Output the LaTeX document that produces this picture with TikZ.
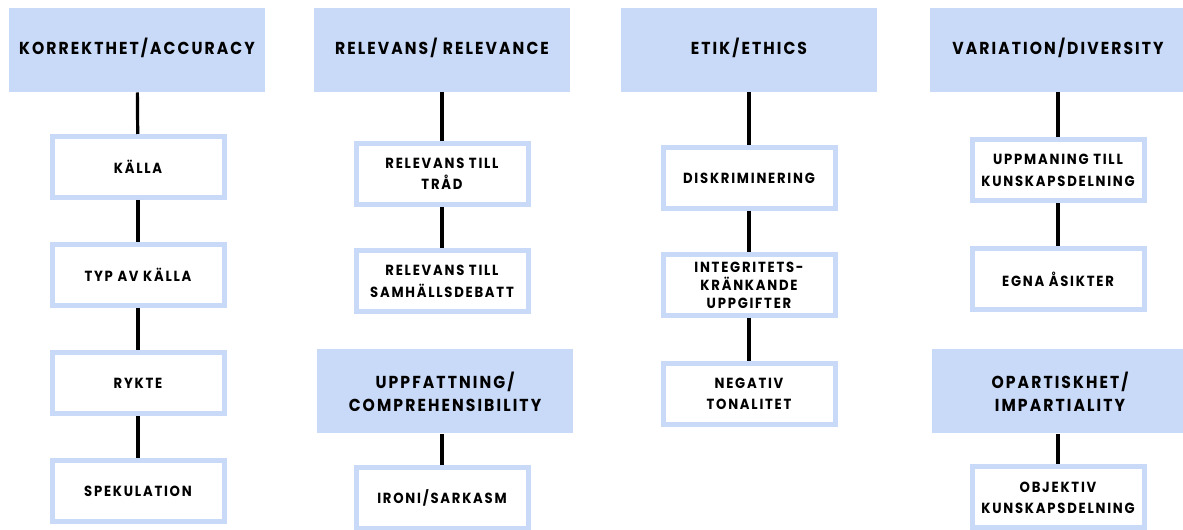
\documentclass[tikz,border=0pt]{standalone}
\usepackage{fontspec}
\newfontfamily\spartan{Poppins}[LetterSpace=12,FakeStretch=0.9]
\definecolor{hdrblue}{RGB}{201,218,248}

\tikzset{every picture/.style={line width=0.75pt}}
\tikzset{
  hdr/.style={fill=hdrblue, minimum width=192pt, minimum height=63pt, inner sep=0pt,
    align=center, font=\spartan\bfseries\fontsize{13}{17}\selectfont},
  hdrone/.style={hdr, text depth=5pt},
  crit/.style={draw=hdrblue, fill=white, line width=3.75pt, minimum width=129pt,
    minimum height=45.75pt, inner sep=0pt, align=center,
    font=\spartan\bfseries\fontsize{11}{16}\selectfont},
  link/.style={line width=2.4pt}
}

\begin{document}
\begin{tikzpicture}[x=0.75pt,y=0.75pt,yscale=-1,xscale=1]
\useasboundingbox[fill=white] (0,0) rectangle (1183,530);

%Shape: Rectangle [headers]
\node[hdrone] (korrekthet) at (137,50) {KORREKTHET/ACCURACY};
\node[hdrone] (relevans) at (442,50) {RELEVANS/ RELEVANCE};
\node[hdrone] (etik) at (749,50) {ETIK/ETHICS};
\node[hdrone] (variation) at (1058,50) {VARIATION/DIVERSITY};
\node[hdr] (uppfattning) at (445,391.5) {UPPFATTNING/\\COMPREHENSIBILITY};
\node[hdr] (opartiskhet) at (1060,391.5) {OPARTISKHET/\\IMPARTIALITY};

% Text Node
\node[crit] (kalla) at (138,167) {KÄLLA};
\node[crit] (typ) at (138,275) {TYP AV KÄLLA};
\node[crit] (rykte) at (138,383.5) {RYKTE};
\node[crit] (spekulation) at (138,491.5) {SPEKULATION};
% Text Node
\node[crit] (trad) at (442,174) {RELEVANS TILL\\TRÅD};
\node[crit] (samhalle) at (442,281.5) {RELEVANS TILL\\SAMHÄLLSDEBATT};
\node[crit] (ironi) at (442,498) {IRONI/SARKASM};
% Text Node
\node[crit] (diskr) at (749,178) {DISKRIMINERING};
\node[crit, font=\spartan\bfseries\fontsize{11}{13.5}\selectfont] (integritet) at (749,285.5) {INTEGRITETS-\\KRÄNKANDE\\UPPGIFTER};
\node[crit] (negativ) at (749,394) {NEGATIV\\TONALITET};
% Text Node
\node[crit] (uppmaning) at (1058,170.5) {UPPMANING TILL\\KUNSKAPSDELNING};
\node[crit] (egna) at (1058,279.5) {EGNA ÅSIKTER};
\node[crit] (objektiv) at (1058,497.5) {OBJEKTIV\\KUNSKAPSDELNING};

% Connection
\draw[link] (korrekthet) -- (kalla);
\draw[link] (kalla) -- (typ);
\draw[link] (typ) -- (rykte);
\draw[link] (rykte) -- (spekulation);
% Connection
\draw[link] (relevans) -- (trad);
\draw[link] (trad) -- (samhalle);
\draw[link] (uppfattning.south -| ironi.north) -- (ironi.north);
% Connection
\draw[link] (etik) -- (diskr);
\draw[link] (diskr) -- (integritet);
\draw[link] (integritet) -- (negativ);
% Connection
\draw[link] (variation) -- (uppmaning);
\draw[link] (uppmaning) -- (egna);
\draw[link] (opartiskhet.south -| objektiv.north) -- (objektiv.north);

\end{tikzpicture}
\end{document}
